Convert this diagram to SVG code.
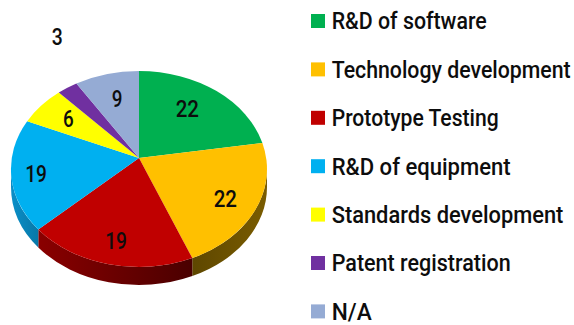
<svg xmlns="http://www.w3.org/2000/svg" width="574" height="325" viewBox="0 0 574 325">
<style>
text{font-family:Roboto,"Liberation Sans",Arial,sans-serif;font-weight:500;font-size:24px;fill:#0d0d0d}
.lbl{text-anchor:middle}
</style>
<defs>
<linearGradient id="gOrSide" x1="0" y1="0" x2="1" y2="0">
<stop offset="0" stop-color="#5e4700"/><stop offset="1" stop-color="#7a5c00"/>
</linearGradient>
<linearGradient id="gRdSide" x1="0" y1="0" x2="1" y2="0">
<stop offset="0" stop-color="#8a0000"/><stop offset="1" stop-color="#4a0000"/>
</linearGradient>
<linearGradient id="gBlSide" x1="0" y1="0" x2="1" y2="0">
<stop offset="0" stop-color="#0a8fc8"/><stop offset="1" stop-color="#0878a8"/>
</linearGradient>
</defs>
<g id="pie">
<g id="sides">
<path id="side-orange" fill="url(#gOrSide)" d="M267 169 A128 98 0 0 1 192.3 258.1 L192.3 276.1 A128 98 0 0 0 267 187 Z"/>
<path id="side-red" fill="url(#gRdSide)" d="M192.3 258.1 A128 98 0 0 1 38.3 229.5 L38.3 247.5 A128 98 0 0 0 192.3 276.1 Z"/>
<path id="side-blue" fill="url(#gBlSide)" d="M38.3 229.5 A128 98 0 0 1 11 169 L11 187 A128 98 0 0 0 38.3 247.5 Z"/>
</g>
<g id="slice-software"><path fill="#00b050" d="M139 158 L139 71 A128 98 0 0 1 262.4 143 Z"/></g>
<g id="slice-technology"><path fill="#ffc000" d="M139 158 L262.4 143 A128 98 0 0 1 192.3 258.1 Z"/></g>
<g id="slice-prototype"><path fill="#c00000" d="M139 158 L192.3 258.1 A128 98 0 0 1 38.3 229.5 Z"/></g>
<g id="slice-equipment"><path fill="#00b0f0" d="M139 158 L38.3 229.5 A128 98 0 0 1 27.2 121.2 Z"/></g>
<g id="slice-standards"><path fill="#ffff00" d="M139 158 L27.2 121.2 A128 98 0 0 1 58.8 92.6 Z"/></g>
<g id="slice-patent"><path fill="#7030a0" d="M139 158 L58.8 92.6 A128 98 0 0 1 76.4 83.5 Z"/></g>
<g id="slice-na"><path fill="#95abd4" d="M139 158 L76.4 83.5 A128 98 0 0 1 139 71 Z"/></g>
<g id="values">
<text class="lbl" x="187.3" y="117.3" textLength="23.3" lengthAdjust="spacingAndGlyphs">22</text>
<text class="lbl" x="225.3" y="207.3" textLength="23.3" lengthAdjust="spacingAndGlyphs">22</text>
<text class="lbl" x="116" y="249.3" textLength="21.7" lengthAdjust="spacingAndGlyphs">19</text>
<text class="lbl" x="36" y="181.7" textLength="21.7" lengthAdjust="spacingAndGlyphs">19</text>
<text class="lbl" x="68.3" y="127.3" textLength="10.7" lengthAdjust="spacingAndGlyphs">6</text>
<text class="lbl" x="57.3" y="45" textLength="11" lengthAdjust="spacingAndGlyphs">3</text>
<text class="lbl" x="117" y="107.3" textLength="10.7" lengthAdjust="spacingAndGlyphs">9</text>
</g>
</g>
<g id="legend">
<g id="leg-software"><rect x="311" y="14" width="14" height="14" fill="#00b050"/><text x="331.7" y="29.3" textLength="155" lengthAdjust="spacingAndGlyphs">R&amp;D of software</text></g>
<g id="leg-technology"><rect x="311" y="62.4" width="14" height="14" fill="#ffc000"/><text x="331.7" y="77.7" textLength="239" lengthAdjust="spacingAndGlyphs">Technology development</text></g>
<g id="leg-prototype"><rect x="311" y="110.8" width="14" height="14" fill="#c00000"/><text x="331.7" y="126.1" textLength="167" lengthAdjust="spacingAndGlyphs">Prototype Testing</text></g>
<g id="leg-equipment"><rect x="311" y="159.2" width="14" height="14" fill="#00b0f0"/><text x="331.7" y="174.5" textLength="179" lengthAdjust="spacingAndGlyphs">R&amp;D of equipment</text></g>
<g id="leg-standards"><rect x="311" y="207.6" width="14" height="14" fill="#ffff00"/><text x="331.7" y="222.9" textLength="231.7" lengthAdjust="spacingAndGlyphs">Standards development</text></g>
<g id="leg-patent"><rect x="311" y="256" width="14" height="14" fill="#7030a0"/><text x="331.7" y="271.3" textLength="179" lengthAdjust="spacingAndGlyphs">Patent registration</text></g>
<g id="leg-na"><rect x="311" y="304.4" width="14" height="14" fill="#95abd4"/><text x="331.7" y="319.7" textLength="40" lengthAdjust="spacingAndGlyphs">N/A</text></g>
</g>
</svg>
